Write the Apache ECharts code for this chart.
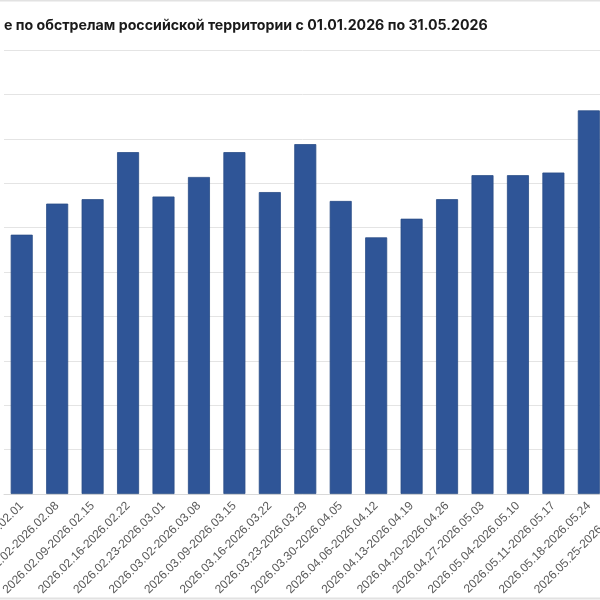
<!DOCTYPE html>
<html>
<head>
<meta charset="utf-8">
<script src="https://cdn.jsdelivr.net/npm/echarts@6/dist/echarts.min.js"></script>
<style>
  html, body { margin: 0; padding: 0; background: #fff; }
  #main { width: 600px; height: 600px; }
</style>
</head>
<body>
<div id="main"></div>
<script>
var chartDom = document.getElementById('main')
var myChart = echarts.init(chartDom)
var option

// weeks shown in the crop (the last one has no visible bar)
const weeks = [
  '2026.01.26-2026.02.01', '2026.02.02-2026.02.08', '2026.02.09-2026.02.15',
  '2026.02.16-2026.02.22', '2026.02.23-2026.03.01', '2026.03.02-2026.03.08',
  '2026.03.09-2026.03.15', '2026.03.16-2026.03.22', '2026.03.23-2026.03.29',
  '2026.03.30-2026.04.05', '2026.04.06-2026.04.12', '2026.04.13-2026.04.19',
  '2026.04.20-2026.04.26', '2026.04.27-2026.05.03', '2026.05.04-2026.05.10',
  '2026.05.11-2026.05.17', '2026.05.18-2026.05.24', '2026.05.25-2026.05.31'
]
const counts = [292, 327, 332, 385, 335, 357, 385, 340, 394, 330, 289, 310, 332, 359, 359, 362, 432, '-']

const titleText = 'е по обстрелам российской территории с 01.01.2026 по 31.05.2026'

option = {
  backgroundColor: '#fff',
  animation: false,
  title: {
    text: titleText,
    left: -1,
    top: 14,
    textStyle: {
      fontFamily: 'Inter',
      fontSize: 14.2,
      fontWeight: 'bold',
      color: '#1a1a1a'
    }
  },
  graphic: [
    { type: 'line', shape: { x1: 0, y1: 0.5, x2: 600, y2: 0.5 }, style: { stroke: '#e2e2e2', lineWidth: 2 } },
    { type: 'line', shape: { x1: 0, y1: 598.5, x2: 600, y2: 598.5 }, style: { stroke: '#e2e2e2', lineWidth: 2 } }
  ],
  grid: { left: 4, top: 50, width: 638, height: 444, containLabel: false, outerBoundsMode: 'none' },
  xAxis: {
    type: 'category',
    data: weeks,
    axisLine: { lineStyle: { color: '#d9d9d9', width: 1 } },
    axisTick: { show: false },
    axisLabel: {
      interval: 0,
      rotate: 45,
      margin: 10,
      color: '#5a5a5a',
      fontSize: 12,
      fontFamily: 'Liberation Sans'
    }
  },
  yAxis: {
    type: 'value',
    min: 0,
    max: 500,
    interval: 50,
    axisLabel: { show: false },
    axisLine: { show: false },
    axisTick: { show: false },
    splitLine: { lineStyle: { color: '#e4e4e4', width: 1 } }
  },
  series: [{
    type: 'bar',
    data: counts,
    barWidth: 22,
    itemStyle: { color: '#2f5597', borderColor: '#294c87', borderWidth: 0.8 }
  }]
}

option && myChart.setOption(option)
</script>
</body>
</html>
